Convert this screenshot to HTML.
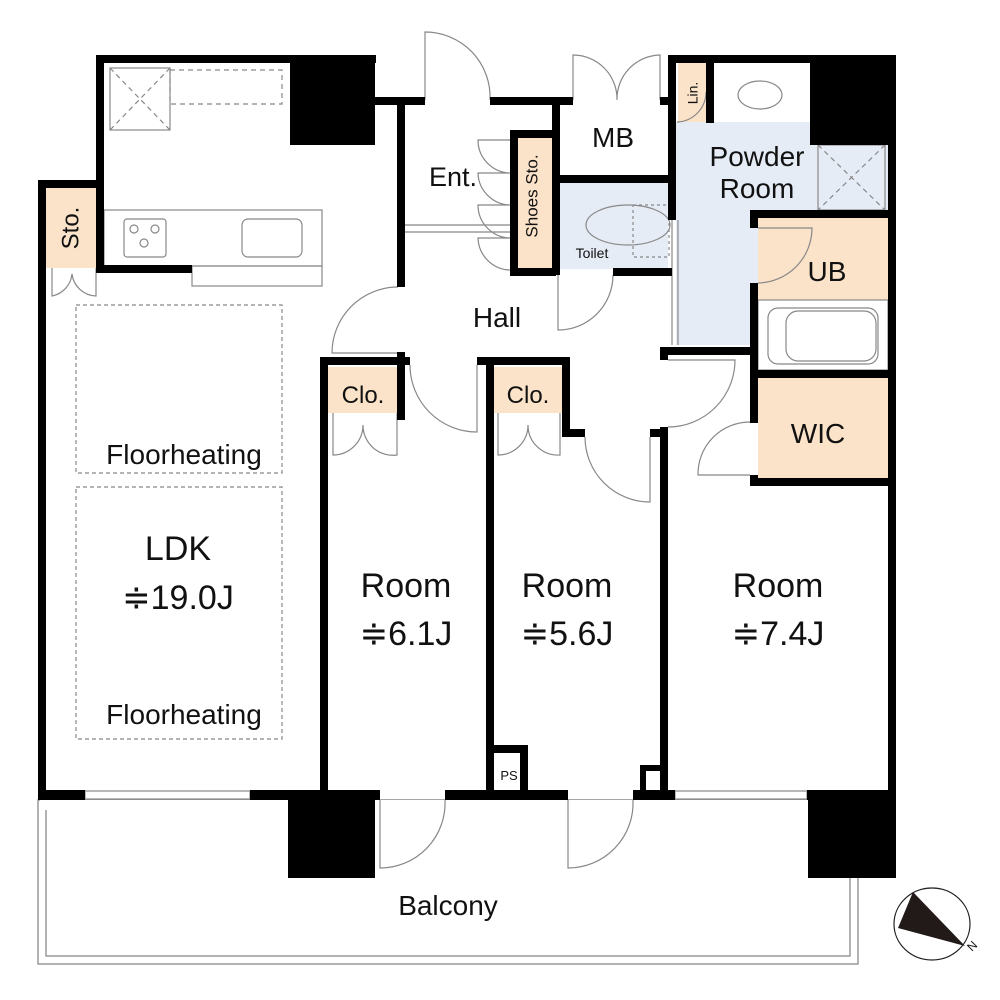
<!DOCTYPE html>
<html><head><meta charset="utf-8"><style>html,body{margin:0;padding:0;background:#fff}svg{display:block}text{font-family:"Liberation Sans",sans-serif;fill:#111}</style></head><body>
<svg width="1000" height="1000" viewBox="0 0 1000 1000" xmlns="http://www.w3.org/2000/svg">
<rect x="46" y="188" width="52" height="80" fill="#fbe3c9"/>
<rect x="512" y="135" width="40" height="135" fill="#fbe3c9"/>
<rect x="678" y="63" width="28" height="60" fill="#fbe3c9"/>
<rect x="558" y="183" width="110" height="86" fill="#e6ecf6"/>
<path d="M676 122 H810 V145 H888 V210 H758 V345 H676 Z" fill="#e6ecf6"/>
<rect x="758" y="218" width="130" height="82" fill="#fbe3c9"/>
<rect x="758" y="378" width="130" height="100" fill="#fbe3c9"/>
<rect x="328" y="367" width="69" height="46" fill="#fbe3c9"/>
<rect x="494" y="367" width="68" height="46" fill="#fbe3c9"/>
<rect x="38" y="800" width="820" height="164" fill="none" stroke="#999" stroke-width="1.5"/>
<rect x="46" y="800" width="804" height="156" fill="none" stroke="#999" stroke-width="1.5"/>
<rect x="40" y="800" width="850" height="10" fill="#fff"/>
<g fill="none" stroke="#888" stroke-width="1.2">
<rect x="104" y="210" width="218" height="56"/>
<rect x="192" y="266" width="130" height="20"/>
<rect x="110" y="68" width="60" height="62"/>
<line x1="110" y1="68" x2="170" y2="130" stroke-dasharray="5 4"/><line x1="170" y1="68" x2="110" y2="130" stroke-dasharray="5 4"/>
<rect x="170" y="70" width="112" height="34" stroke-dasharray="5 4"/>
<rect x="124" y="219" width="42" height="38" rx="3"/>
<rect x="242" y="219" width="60" height="38" rx="6"/>
<circle cx="134" cy="229" r="4"/><circle cx="155" cy="229" r="4"/><circle cx="144" cy="243" r="4"/>
<rect x="76" y="305" width="206" height="168" stroke-dasharray="4 3"/>
<rect x="76" y="487" width="206" height="252" stroke-dasharray="4 3"/>
<rect x="818" y="145" width="67" height="65"/>
<line x1="818" y1="145" x2="885" y2="210" stroke-dasharray="5 4"/><line x1="885" y1="145" x2="818" y2="210" stroke-dasharray="5 4"/>
<ellipse cx="760" cy="95" rx="22" ry="14"/>
<rect x="758" y="300" width="130" height="70"/>
<rect x="768" y="308" width="110" height="56" rx="10"/>
<rect x="786" y="311" width="90" height="50" rx="12"/>
<ellipse cx="628" cy="225" rx="42" ry="20"/>
<rect x="633" y="205" width="36" height="52" stroke-dasharray="3 3"/>
<line x1="405" y1="225" x2="512" y2="225"/><line x1="405" y1="232" x2="512" y2="232"/>
<line x1="672" y1="220" x2="672" y2="345"/><line x1="678" y1="220" x2="678" y2="345"/>
<path d="M425 100 V32 A65 65 0 0 1 490 100"/>
<path d="M573 100 V55 A44 44 0 0 1 617 100 M660 100 V55 A44 44 0 0 0 617 100"/>
<path d="M512 140 H478 A33 33 0 0 0 512 173 M512 173 H478 A33 33 0 0 0 512 205 M512 205 H478 A33 33 0 0 0 512 238 M512 238 H478 A33 33 0 0 0 512 270"/>
<path d="M558 275 V330 A55 55 0 0 0 613 275"/>
<path d="M398 287 A66 66 0 0 0 332 353 H398"/>
<path d="M677 122 A30 30 0 0 0 706 92"/>
<path d="M758 228 H812 A55 55 0 0 1 758 283"/>
<path d="M410 365 A67 67 0 0 0 477 432 V365"/>
<path d="M585 437 A65 65 0 0 0 650 502 V437"/>
<path d="M668 360 H735 A67 67 0 0 1 668 427"/>
<path d="M750 422 A52 52 0 0 0 698 475 H750"/>
<path d="M333 413 V455 A30 30 0 0 0 363 425 A30 30 0 0 0 397 455 V413"/>
<path d="M498 413 V455 A30 30 0 0 0 528 425 A30 30 0 0 0 560 455 V413"/>
<path d="M52 268 V296 A25 25 0 0 0 72 274 A25 25 0 0 0 96 296 V268"/>
<path d="M380 800 V868 A65 65 0 0 0 445 800"/>
<path d="M568 800 V868 A65 65 0 0 0 633 800"/>
<rect x="85" y="791" width="165" height="8"/>
<rect x="675" y="791" width="132" height="8"/>
</g>
<g fill="#000">
<rect x="38" y="180" width="8" height="620"/>
<rect x="38" y="180" width="66" height="8"/>
<rect x="96" y="55" width="8" height="218"/>
<rect x="96" y="265" width="96" height="8"/>
<rect x="96" y="55" width="280" height="8"/>
<rect x="290" y="55" width="85" height="90"/>
<rect x="375" y="97" width="50" height="8"/>
<rect x="490" y="97" width="83" height="8"/>
<rect x="660" y="97" width="16" height="8"/>
<rect x="397" y="97" width="8" height="190"/>
<rect x="397" y="352" width="8" height="68"/>
<rect x="510" y="130" width="46" height="8"/>
<rect x="510" y="130" width="8" height="143"/>
<rect x="510" y="268" width="46" height="8"/>
<rect x="552" y="105" width="8" height="170"/>
<rect x="552" y="175" width="120" height="8"/>
<rect x="613" y="268" width="59" height="8"/>
<rect x="668" y="55" width="8" height="165"/>
<rect x="668" y="55" width="150" height="8"/>
<rect x="706" y="63" width="8" height="60"/>
<rect x="810" y="55" width="86" height="90"/>
<rect x="888" y="55" width="8" height="745"/>
<rect x="750" y="210" width="146" height="8"/>
<rect x="750" y="210" width="8" height="18"/>
<rect x="750" y="283" width="8" height="140"/>
<rect x="750" y="475" width="8" height="11"/>
<rect x="750" y="370" width="146" height="8"/>
<rect x="750" y="478" width="146" height="8"/>
<rect x="660" y="347" width="98" height="8"/>
<rect x="660" y="347" width="8" height="13"/>
<rect x="660" y="427" width="8" height="370"/>
<rect x="320" y="357" width="90" height="8"/>
<rect x="320" y="357" width="8" height="440"/>
<rect x="477" y="357" width="93" height="8"/>
<rect x="486" y="357" width="8" height="440"/>
<rect x="562" y="357" width="8" height="80"/>
<rect x="562" y="429" width="23" height="8"/>
<rect x="650" y="429" width="18" height="8"/>
<rect x="38" y="790" width="47" height="10"/>
<rect x="250" y="790" width="130" height="10"/>
<rect x="445" y="790" width="123" height="10"/>
<rect x="633" y="790" width="42" height="10"/>
<rect x="807" y="790" width="89" height="10"/>
<rect x="288" y="795" width="87" height="83"/>
<rect x="808" y="795" width="88" height="83"/>
<rect x="490" y="745" width="38" height="8"/><rect x="520" y="745" width="8" height="50"/>
<rect x="640" y="765" width="25" height="6"/><rect x="640" y="765" width="6" height="30"/>
</g>
<text x="72" y="228" font-size="24" transform="rotate(-90 72 228)" text-anchor="middle" dominant-baseline="middle">Sto.</text>
<text x="533" y="196" font-size="17" transform="rotate(-90 533 196)" text-anchor="middle" dominant-baseline="middle">Shoes Sto.</text>
<text x="694" y="93" font-size="14" transform="rotate(-90 694 93)" text-anchor="middle" dominant-baseline="middle">Lin.</text>
<text x="453" y="186" font-size="27" text-anchor="middle">Ent.</text>
<text x="613" y="147" font-size="28" text-anchor="middle">MB</text>
<text x="592" y="258" font-size="14" text-anchor="middle">Toilet</text>
<text x="757" y="166" font-size="28" text-anchor="middle">Powder</text>
<text x="757" y="198" font-size="28" text-anchor="middle">Room</text>
<text x="827" y="281" font-size="28" text-anchor="middle">UB</text>
<text x="818" y="443" font-size="28" text-anchor="middle">WIC</text>
<text x="497" y="327" font-size="28" text-anchor="middle">Hall</text>
<text x="363" y="403" font-size="24" text-anchor="middle">Clo.</text>
<text x="528" y="403" font-size="24" text-anchor="middle">Clo.</text>
<text x="184" y="464" font-size="28" text-anchor="middle">Floorheating</text>
<text x="184" y="724" font-size="28" text-anchor="middle">Floorheating</text>
<text x="178" y="560" font-size="34" text-anchor="middle">LDK</text>
<text x="178" y="609" font-size="34" text-anchor="middle">≑19.0J</text>
<text x="406" y="597" font-size="34" text-anchor="middle">Room</text>
<text x="406" y="645" font-size="34" text-anchor="middle">≑6.1J</text>
<text x="567" y="597" font-size="34" text-anchor="middle">Room</text>
<text x="567" y="645" font-size="34" text-anchor="middle">≑5.6J</text>
<text x="778" y="597" font-size="34" text-anchor="middle">Room</text>
<text x="778" y="645" font-size="34" text-anchor="middle">≑7.4J</text>
<text x="509" y="780" font-size="13" text-anchor="middle">PS</text>
<text x="448" y="915" font-size="28" text-anchor="middle">Balcony</text>
<ellipse cx="932" cy="924" rx="38" ry="36" fill="none" stroke="#222" stroke-width="1.2"/>
<path d="M913 892 L965 946 L898 928 Z" fill="#221a18"/>
<text x="972" y="952" font-size="12" transform="rotate(-45 972 952)">N</text>
</svg>
</body></html>
